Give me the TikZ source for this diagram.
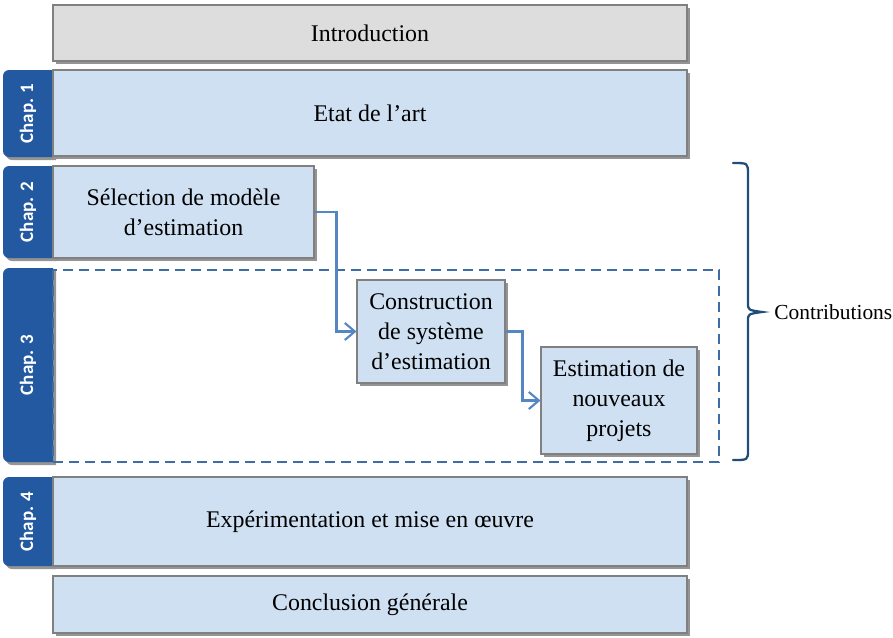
\documentclass[tikz,border=0pt]{standalone}
\usepackage{fontspec}
\setmainfont{Liberation Serif}
\newfontfamily\chapfont{Carlito}
\usetikzlibrary{arrows.meta, shadows}
\definecolor{boxblue}{RGB}{207,224,242}
\definecolor{introgrey}{RGB}{221,221,221}
\definecolor{tabblue}{RGB}{35,89,161}
\definecolor{dashblue}{RGB}{62,109,163}
\definecolor{arrowblue}{RGB}{84,134,196}
\definecolor{braceblue}{RGB}{31,78,121}

\begin{document}
\begin{tikzpicture}[x=0.2mm, y=-0.2mm,
    shade/.style={drop shadow={shadow xshift=0.6mm, shadow yshift=-0.6mm, fill=black!60, opacity=.7}},
    box/.style={draw=black!50, line width=0.6pt, fill=boxblue, shade, align=center, inner sep=0pt,
        font=\fontsize{13.6}{17}\selectfont},
    tab/.style={fill=tabblue, shade},
    chap/.style={rotate=90, text=white, font=\chapfont\bfseries\fontsize{10.8}{12}\selectfont},
    flow/.style={draw=arrowblue, line width=1.2pt, -{Straight Barb[length=2mm, width=3.4mm]}}]
    \useasboundingbox (0,0) rectangle (893,637);

    % chapter tabs
    \fill[tab] [rounded corners=1.2mm] (3,70) rectangle (53,157) [sharp corners] (30,70) rectangle (53,157);
    \fill[tab] [rounded corners=1.2mm] (3,166) rectangle (53,258) [sharp corners] (30,166) rectangle (53,258);
    \fill[tab] [rounded corners=1.2mm] (3,268) rectangle (53,462) [sharp corners] (30,268) rectangle (53,462);
    \fill[tab] [rounded corners=1.2mm] (3,477) rectangle (53,566) [sharp corners] (30,477) rectangle (53,566);
    \node[chap] (c1) at (28,113.5) {Chap. 1};
    \node[chap] (c2) at (28,212) {Chap. 2};
    \node[chap] (c3) at (28,365) {Chap. 3};
    \node[chap] (c4) at (28,521.5) {Chap. 4};

    % boxes
    \node[box, fill=introgrey, minimum width=126.8mm, minimum height=11.2mm] (intro) at (370,33) {Introduction};
    \node[box, minimum width=126.8mm, minimum height=17.2mm] (art) at (370,113) {Etat de l’art};
    \node[box, minimum width=52.2mm, minimum height=18.4mm] (sel) at (183.5,212) {Sélection de modèle\\d’estimation};
    \node[box, minimum width=29.6mm, minimum height=20.6mm] (cons) at (431,331.5) {Construction\\de système\\d’estimation};
    \node[box, minimum width=31.2mm, minimum height=21.4mm] (est) at (619,400.5) {Estimation de\\nouveaux\\projets};
    \node[box, minimum width=126.8mm, minimum height=17.8mm] (exp) at (370,521.5) {Expérimentation et mise en œuvre};
    \node[box, minimum width=126.8mm, minimum height=11.4mm] (concl) at (370,604.5) {Conclusion générale};

    % chapter 3 frame
    \draw[dashblue, line width=1.4pt, dash pattern=on 2mm off 1.2mm] (53,270) rectangle (719,462);

    \draw[flow] (sel.east) -- ++(22,0) |- (cons.west);
    \draw[flow] (cons.east) -- ++(17,0) |- (est.west);

    % contributions
    \draw[braceblue, line width=1.3pt, line cap=round]
        (733,163) .. controls (748,163) .. (748,174) -- (748,303)
        .. controls (748,310) .. (762,312) .. controls (748,314) .. (748,321)
        -- (748,450) .. controls (748,460) .. (733,460);
    \node[anchor=west, font=\fontsize{12.2}{14}\selectfont, inner sep=0pt] (contrib) at (774,312) {Contributions};
\end{tikzpicture}
\end{document}
